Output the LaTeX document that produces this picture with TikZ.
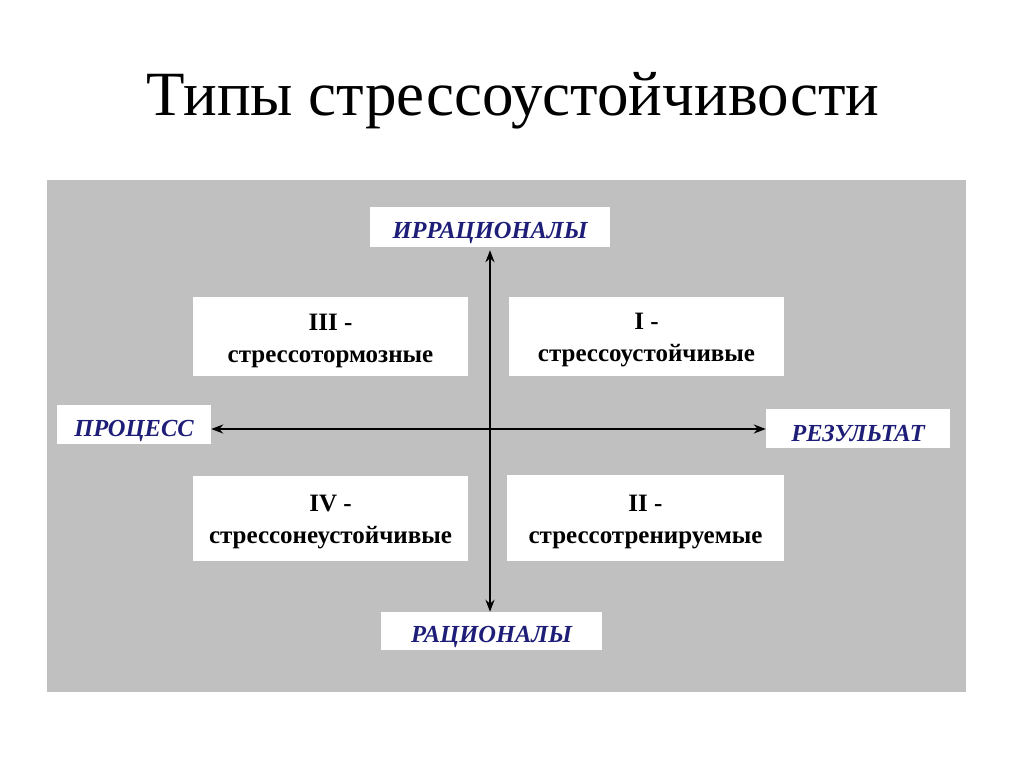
\documentclass[tikz,border=0pt]{standalone}
\usepackage{fontspec}
\setmainfont{Liberation Serif}
\usetikzlibrary{arrows.meta}
\definecolor{panel}{RGB}{192,192,192}
\definecolor{navy}{RGB}{30,30,120}
\begin{document}
\begin{tikzpicture}[x=1pt,y=-1pt,
  whitebox/.style={fill=white, inner sep=0pt, anchor=center},
  axistext/.style={text=navy, font=\fontsize{24.5}{26}\selectfont\bfseries\itshape, inner sep=0pt, anchor=center},
  quadtext/.style={font=\fontsize{25}{32}\selectfont\bfseries, align=center, inner sep=0pt, anchor=center},
  axis/.style={line width=2.2pt, {Stealth[length=12pt,width=9pt]}-{Stealth[length=12pt,width=9pt]}}
]
\useasboundingbox (0,0) rectangle (1024,767);
\node[font=\fontsize{63}{65}\selectfont, anchor=center] (title) at (513,101) {Типы стрессоустойчивости};
\fill[panel] (47,180) rectangle (966,692);
% quadrant boxes
\node[whitebox, minimum width=275pt, minimum height=79pt] (q3) at (330.5,336.5) {};
\node[whitebox, minimum width=275pt, minimum height=79pt] (q1) at (646.5,336.5) {};
\node[whitebox, minimum width=275pt, minimum height=85pt] (q4) at (330.5,518.5) {};
\node[whitebox, minimum width=277pt, minimum height=86pt] (q2) at (645.5,518) {};
\node[quadtext] (q3t) at ([yshift=-4pt]q3.center) {III -\\стрессотормозные};
\node[quadtext] (q1t) at ([yshift=-4pt]q1.center) {I -\\стрессоустойчивые};
\node[quadtext] (q4t) at ([yshift=-4pt]q4.center) {IV -\\стрессонеустойчивые};
\node[quadtext] (q2t) at ([yshift=-4pt]q2.center) {II -\\стрессотренируемые};
% axis labels
\node[whitebox, minimum width=240pt, minimum height=40pt] (top) at (490,227) {};
\node[whitebox, minimum width=221pt, minimum height=38pt] (bot) at (491.5,631) {};
\node[whitebox, minimum width=154pt, minimum height=39pt] (left) at (134,424.5) {};
\node[whitebox, minimum width=184pt, minimum height=39pt] (right) at (858,428.5) {};
\node[axistext] (topt) at ([yshift=-6pt]top.center) {ИРРАЦИОНАЛЫ};
\node[axistext] (bott) at ([yshift=-6pt]bot.center) {РАЦИОНАЛЫ};
\node[axistext] (leftt) at ([yshift=-6pt]left.center) {ПРОЦЕСС};
\node[axistext] (rightt) at ([yshift=-5pt]right.center) {РЕЗУЛЬТАТ};
% axes
\coordinate (c) at (490,429);
\draw[axis] ([yshift=-3pt]top.south -| c) -- (bot.north -| c);
\draw[axis] (left.east |- c) -- (right.west |- c);
\end{tikzpicture}
\end{document}
